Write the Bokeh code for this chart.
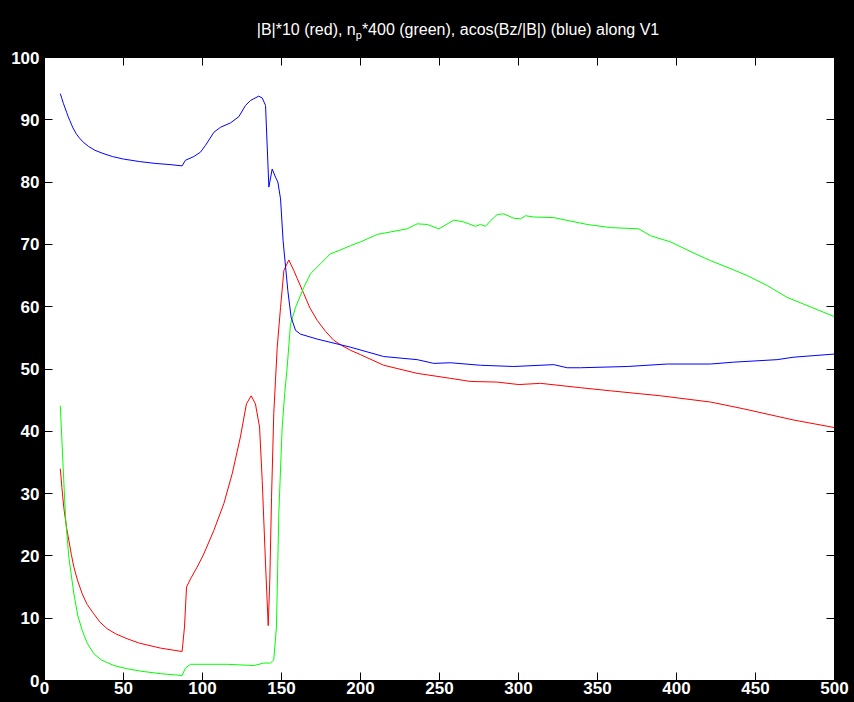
from bokeh.plotting import figure
from bokeh.models import LinearAxis, Range1d, FixedTicker, Div
from bokeh.layouts import column
from bokeh.embed import file_html
from bokeh.resources import INLINE

# ---- data ----
blue_x = [10, 11, 12, 13, 14, 15, 16, 17, 18, 20, 22, 25, 28, 32, 37, 43, 50, 60, 70, 80,
          87.1, 89.2, 94.5, 98.7,
          101.9, 107.2, 111.4, 117.7, 123, 127.2, 130.4, 135.6, 137.8, 139.9, 142, 144.1,
          146.2, 147.7, 149.4, 151, 154, 156.1, 158.9, 162, 172.6, 193.7, 214.7, 235.9,
          246.4, 257, 275.9, 297, 322.3, 330.8, 339.2, 368.8, 394.1, 421.5, 436.3, 463.7,
          474.3, 500]
blue_y = [94.2, 93.4, 92.6, 91.9, 91.2, 90.5, 89.9, 89.3, 88.7, 87.8, 87.1, 86.3, 85.7,
          85.1, 84.6, 84.1, 83.7, 83.3, 83.0, 82.8,
          82.6, 83.5, 84.1, 84.8,
          85.9, 88.0, 88.8, 89.5, 90.5, 92.3, 93.1, 93.8, 93.5, 92.3, 79.2, 82.1,
          80.8, 80.0, 77.3, 70.6, 62.6, 58.3, 56.2, 55.6, 54.8, 53.5, 52.0, 51.5,
          50.9, 51.0, 50.6, 50.4, 50.7, 50.2, 50.2, 50.4, 50.8, 50.8, 51.1, 51.5,
          51.9, 52.4]

red_x = [10, 11, 12.2, 14, 15.4, 17, 18.6, 21, 23.9, 27, 31.2, 35, 39.7, 45, 52.3, 60,
         73.4, 87.1, 88.6, 89.9, 92.4, 96.6,
         100.8, 107.2, 113.5, 118.8, 124, 127.8, 130.8, 133.5, 136.1, 137.8, 139.9, 141.6,
         142.6, 143.7, 145.1, 146.2, 147.3, 149.4, 151.5, 154.6, 157.8, 160, 164.1, 168,
         172.6, 178, 183.1, 188, 193.7, 200, 214.7, 235.9, 257, 269.6, 286.5, 300.2,
         313.9, 339.2, 358.2, 389.9, 421.5, 442.6, 474.3, 500]
red_y = [34.0, 31.0, 27.8, 24.5, 22.5, 20.2, 18.2, 16.0, 13.9, 12.2, 10.7, 9.4, 8.3, 7.5,
         6.7, 6.0,
         5.2, 4.65, 8.6, 15.0, 16.3, 18.2,
         20.3, 24.1, 28.4, 33.2, 39.1, 44.4, 45.7, 44.4, 40.7, 32.1, 18.7, 8.8,
         16.1, 29.4, 42.8, 48.2, 53.5, 59.9, 65.8, 67.5, 65.8, 64.5, 62.1, 59.8,
         57.8, 56.0, 54.6, 53.8, 53.0, 52.3, 50.6, 49.3, 48.5, 48.0, 47.9, 47.5,
         47.7, 47.0, 46.5, 45.7, 44.7, 43.6, 41.8, 40.6]

green_x = [10, 11.8, 13.3, 15.4, 18.6, 21, 23.9, 27, 31.2, 36, 43.9, 52, 60.8, 73.4, 87.1,
           89.2, 92.4,
           115.6, 132.5, 138.8, 143, 145.1, 146.8, 148.3, 150.4, 152.0, 153.5, 155.7,
           158.9, 164.1, 168.4, 174.7, 181, 186.3, 193.7, 200, 210.6, 219, 229.5, 235.9,
           242.2, 249.6, 259.1, 265.4, 272.8, 275.9, 279.1, 282.3, 286.5, 290.7, 297,
           301.3, 304.4, 309.7, 322.3, 343.5, 358.2, 376.1, 383.5, 396.2, 411, 421.5,
           436.3, 444.7, 457.4, 470, 480.6, 500]
green_y = [44.1, 34.2, 26.2, 19.8, 13.9, 10.5, 8.0, 6.0, 4.3, 3.3, 2.4, 1.9, 1.5, 1.1, 0.8,
           2.0, 2.6,
           2.6, 2.4, 2.8, 2.8, 3.3, 8.6, 26.8, 40.5, 46.0, 50.0, 57.2,
           59.9, 63.1, 65.3, 66.9, 68.5, 69.0, 69.8, 70.4, 71.6, 72.0, 72.5, 73.3,
           73.2, 72.5, 73.9, 73.6, 72.9, 73.2, 72.9, 73.8, 74.8, 74.9, 74.2,
           74.1, 74.6, 74.4, 74.3, 73.2, 72.7, 72.5, 71.4, 70.4, 68.6, 67.4,
           65.9, 65.0, 63.4, 61.5, 60.4, 58.4]

x_ticks = [0, 50, 100, 150, 200, 250, 300, 350, 400, 450, 500]
y_ticks = [0, 10, 20, 30, 40, 50, 60, 70, 80, 90, 100]

FONT = "Liberation Sans"
TICK_FS = "17px"
DIV_H = 46
FIG_TOP = 11

title = Div(
    text=('<div style="width:854px;box-sizing:border-box;padding-top:21px;padding-left:62px;'
          'text-align:center;line-height:18px;white-space:nowrap;">'
          '|B|*10 (red), n<sub style="font-size:11px;">p</sub>*400 (green), '
          'acos(Bz/|B|) (blue) along V1</div>'),
    width=854, height=DIV_H, margin=0,
    styles={"background-color": "black", "color": "white",
            "font-family": "Liberation Sans", "font-size": "16px"},
)

p = figure(width=854, height=702 - DIV_H, output_backend="svg", toolbar_location=None,
           x_range=Range1d(0, 500), y_range=Range1d(0, 100),
           x_axis_location=None, y_axis_location=None, margin=0,
           min_border_left=44, min_border_right=20, min_border_top=FIG_TOP,
           min_border_bottom=22)
p.background_fill_color = "white"
p.border_fill_color = "black"
p.outline_line_color = "black"
p.xgrid.visible = False
p.ygrid.visible = False


def style_axis(ax, labels=True):
    ax.axis_line_color = "black"
    ax.major_tick_line_color = "black"
    ax.major_tick_in = 8
    ax.major_tick_out = 0
    ax.minor_tick_in = 0
    ax.minor_tick_out = 0
    if labels:
        ax.major_label_text_color = "white"
        ax.major_label_text_font = FONT
        ax.major_label_text_font_size = TICK_FS
        ax.major_label_text_font_style = "bold"
    else:
        ax.major_label_text_font_size = "0px"
        ax.major_label_standoff = 0


xb = LinearAxis(ticker=FixedTicker(ticks=x_ticks))
style_axis(xb)
xb.major_label_standoff = 1
p.add_layout(xb, "below")

yl = LinearAxis(ticker=FixedTicker(ticks=y_ticks))
style_axis(yl)
yl.major_label_standoff = 5
p.add_layout(yl, "left")

xt = LinearAxis(ticker=FixedTicker(ticks=x_ticks))
style_axis(xt, labels=False)
p.add_layout(xt, "above")

yr = LinearAxis(ticker=FixedTicker(ticks=y_ticks))
style_axis(yr, labels=False)
p.add_layout(yr, "right")

p.line(red_x, red_y, line_color="#ff0000", line_width=1)
p.line(green_x, green_y, line_color="#00ff00", line_width=1)
p.line(blue_x, blue_y, line_color="#0000ff", line_width=1)

layout = column(title, p, spacing=0, margin=0, styles={"background-color": "black"})

open("out.html", "w").write(file_html(layout, INLINE))
